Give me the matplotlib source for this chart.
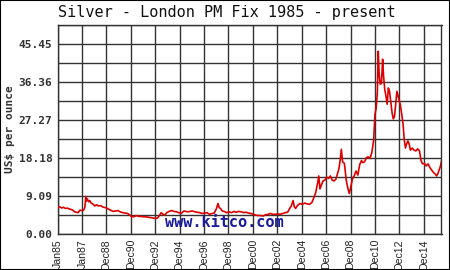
import numpy as np
import matplotlib
matplotlib.use("Agg")
import matplotlib.pyplot as plt

# silver price (decimal year, US$ per ounce)
years = [1985.0, 1985.15, 1985.3, 1985.45, 1985.6, 1985.75, 1985.9, 1986.05, 1986.2, 1986.35,
         1986.5, 1986.65, 1986.8, 1986.95, 1987.1, 1987.2, 1987.28, 1987.33, 1987.4, 1987.5,
         1987.6, 1987.7, 1987.85, 1988.0, 1988.15, 1988.3, 1988.5, 1988.7, 1988.9, 1989.1,
         1989.3, 1989.5, 1989.7, 1989.9, 1990.1, 1990.3, 1990.5, 1990.7, 1990.85, 1991.0,
         1991.2, 1991.4, 1991.6, 1991.8, 1992.0, 1992.2, 1992.4, 1992.6, 1992.8, 1993.0,
         1993.15, 1993.3, 1993.45, 1993.6, 1993.75, 1993.9, 1994.1, 1994.3, 1994.5, 1994.7,
         1994.9, 1995.1, 1995.3, 1995.45, 1995.6, 1995.8, 1996.0, 1996.2, 1996.4, 1996.6,
         1996.8, 1997.0, 1997.2, 1997.4, 1997.6, 1997.8, 1997.95, 1998.1, 1998.2, 1998.3,
         1998.45, 1998.6, 1998.8, 1999.0, 1999.2, 1999.4, 1999.6, 1999.8, 2000.0, 2000.2,
         2000.4, 2000.6, 2000.8, 2001.0, 2001.2, 2001.4, 2001.6, 2001.8, 2002.0, 2002.2,
         2002.4, 2002.6, 2002.8, 2003.0, 2003.2, 2003.4, 2003.6, 2003.8, 2003.95, 2004.1,
         2004.25, 2004.35, 2004.45, 2004.6, 2004.8, 2005.0, 2005.2, 2005.4, 2005.6, 2005.8,
         2005.95, 2006.1, 2006.25, 2006.35, 2006.45, 2006.55, 2006.7, 2006.85, 2007.0, 2007.15,
         2007.3, 2007.45, 2007.6, 2007.75, 2007.9, 2008.0, 2008.1, 2008.2, 2008.3, 2008.45,
         2008.6, 2008.72, 2008.85, 2008.95, 2009.1, 2009.25, 2009.4, 2009.55, 2009.7, 2009.85,
         2009.95, 2010.1, 2010.25, 2010.4, 2010.55, 2010.7, 2010.85, 2010.95, 2011.05, 2011.15,
         2011.22, 2011.3, 2011.38, 2011.48, 2011.58, 2011.65, 2011.75, 2011.85, 2011.95, 2012.05,
         2012.15, 2012.25, 2012.35, 2012.45, 2012.55, 2012.65, 2012.75, 2012.85, 2012.95, 2013.05,
         2013.15, 2013.25, 2013.35, 2013.45, 2013.55, 2013.65, 2013.75, 2013.85, 2014.0, 2014.15,
         2014.3, 2014.45, 2014.6, 2014.72, 2014.85, 2015.0, 2015.15, 2015.3, 2015.45, 2015.6,
         2015.75, 2015.9, 2016.0, 2016.1, 2016.2, 2016.3, 2016.4]
price = [6.2, 6.4, 6.1, 6.3, 6.0, 6.1, 5.9, 5.8, 5.6, 5.2,
         5.1, 5.0, 5.6, 5.5, 5.6, 6.3, 8.9, 7.8, 8.3, 7.6,
         7.9, 7.3, 7.1, 6.6, 6.9, 6.6, 6.7, 6.3, 6.2, 5.9,
         5.6, 5.3, 5.4, 5.5, 5.2, 5.0, 4.9, 4.8, 4.5, 4.1,
         4.0, 4.3, 4.1, 4.1, 4.0, 4.0, 3.9, 3.8, 3.7, 3.6,
         3.7, 4.3, 5.0, 4.6, 4.4, 5.0, 5.3, 5.5, 5.3, 5.2,
         5.0, 4.8, 5.4, 5.3, 5.2, 5.3, 5.4, 5.2, 5.1, 5.0,
         4.8, 4.9, 5.0, 4.6, 4.8, 4.9, 5.8, 7.2, 6.2, 6.0,
         5.4, 5.3, 5.0, 5.2, 5.0, 5.3, 5.1, 5.3, 5.2, 5.0,
         5.1, 4.9, 4.8, 4.6, 4.4, 4.3, 4.3, 4.2, 4.5, 4.6,
         4.8, 4.6, 4.6, 4.7, 4.6, 4.8, 5.0, 5.1, 5.9, 6.6,
         7.9, 6.4, 6.0, 6.7, 7.2, 7.0, 7.3, 7.1, 7.0, 7.5,
         8.6, 9.8, 12.0, 13.8, 10.7, 11.5, 12.6, 12.8, 13.5, 13.2,
         13.8, 12.8, 12.6, 13.0, 14.5, 15.5, 17.5, 20.2, 17.2, 16.8,
         12.8, 11.0, 9.6, 10.8, 13.0, 13.8, 15.0, 14.0, 16.5, 17.5,
         17.0, 17.2, 18.2, 18.4, 18.0, 19.5, 22.5, 28.5, 30.0, 34.0,
         43.7, 38.0, 35.8, 36.0, 41.8, 38.0, 34.6, 33.0, 31.0, 34.9,
         34.0, 31.5, 29.0, 27.5, 28.0, 31.0, 34.1, 33.0, 31.8, 30.5,
         28.5, 26.3, 22.5, 20.5, 21.5, 22.2, 21.5, 20.0, 20.5, 20.0,
         19.8, 20.3, 19.8, 17.5, 16.7, 16.8, 16.2, 16.7, 15.8, 15.2,
         14.6, 14.2, 13.8, 14.3, 15.2, 16.0, 17.4]

tick_pos = [1985.0, 1987.0, 1988.95, 1990.95, 1992.95, 1994.95, 1996.95, 1998.95,
            2000.95, 2002.95, 2004.95, 2006.95, 2008.95, 2010.95, 2012.95, 2014.95]
tick_labels = ["Jan85", "Jan87", "Dec88", "Dec90", "Dec92", "Dec94", "Dec96", "Dec98",
               "Dec00", "Dec02", "Dec04", "Dec06", "Dec08", "Dec10", "Dec12", "Dec14"]
y_max = 50.0
y_step = y_max / 11

fig = plt.figure(figsize=(4.5, 2.7), dpi=100)
fig.patch.set_facecolor("white")
ax = fig.add_axes([58 / 450, 1 - 233.5 / 270, 383.5 / 450, 208.5 / 270])

ax.plot(years, price, color="#dd0000", lw=1.2, zorder=3)

ax.set_xlim(1985.0, 2016.4)
ax.set_ylim(0, y_max)

ax.set_xticks(tick_pos)
ax.set_xticklabels(tick_labels, rotation=90, fontsize=7.6, family="Liberation Sans",
                   color="#222222", va="top")
yt = np.arange(12) * y_step
ax.set_yticks(yt)
ax.set_yticklabels([f"{v:.2f}" if i % 2 == 0 else "" for i, v in enumerate(yt)],
                   fontsize=8, family="DejaVu Sans Mono", fontweight="bold", color="#333333")
ax.tick_params(length=0, pad=4)
ax.tick_params(axis="x", pad=4)

ax.grid(True, color="#333333", lw=1.0)
ax.set_axisbelow(True)
for s in ax.spines.values():
    s.set_color("#333333")
    s.set_linewidth(1.0)

ax.set_ylabel("US$ per ounce", fontsize=8, family="DejaVu Sans Mono",
              fontweight="bold", color="#333333", labelpad=3)

ax.text(0.433, 0.015, "www.kitco.com", transform=ax.transAxes, ha="center", va="bottom",
        fontsize=11, family="DejaVu Sans Mono", fontweight="bold", color="#1a1a9c", zorder=4)

fig.text(58 / 450, 1 - 13 / 270, "Silver - London PM Fix 1985 - present", ha="left",
         va="center", fontsize=11, family="DejaVu Sans Mono", color="#111111")

# thin border around the whole image
fig.add_artist(plt.Rectangle((0, 0), 1, 1, transform=fig.transFigure, fill=False,
                             edgecolor="black", lw=1.5))

fig.savefig("out.png", dpi=100)
